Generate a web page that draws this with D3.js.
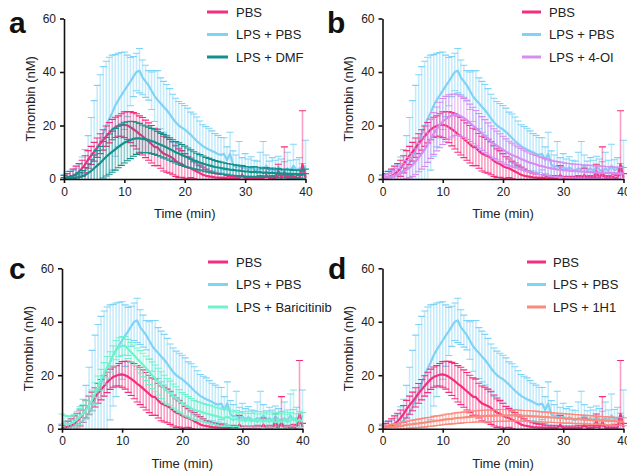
<!DOCTYPE html>
<html lang="en">
<head>
<meta charset="utf-8" />
<title>Thrombin generation</title>
<style>
	body { margin: 0; padding: 0; background: #fff; }
	svg { display: block; font-family: 'Liberation Sans', Arial, sans-serif; }
</style>
<script src="https://d3js.org/d3.v7.min.js"></script>
</head>
<body>
<div id="chart"></div>
<script>
// readings every 30 s, 0-40 min
const times = d3.range(0, 40.25, 0.5);

// PBS
const pbsMean = [
	0.3, 0.5, 0.8, 1.2, 1.8, 2.8, 4, 5.5, 7.3, 8.8,
	10.2, 11.7, 13.2, 14.6, 16, 17.3, 18.5, 19.3, 19.8, 20.2,
	20.3, 20, 19.4, 18.6, 17.8, 16.8, 16, 15, 14, 13,
	12, 11.8, 10.5, 9.5, 9, 8.5, 7.8, 6.8, 6, 5.6,
	4.8, 4.3, 4, 3.4, 2.8, 2.2, 1.6, 1.2, 1, 0.8,
	0.6, 0.5, 0.4, 0.5, 0.3, 0.2, 0.2, 0.3, 0.2, 1.5,
	0.2, 0.1, 0.2, 0.1, 0.2, 0.3, 0.2, 1.5, 0.2, 0.3,
	0.2, 3, 0.3, 2.5, 0.2, 0.3, 0.2, 0.4, 0.3, 5.5,
	0.5];
const pbsSd = [
	1, 1.5, 2, 2.5, 3, 3, 3, 3.2, 3.3, 3.4,
	3.5, 3.6, 3.7, 3.8, 3.8, 3.8, 3.8, 3.8, 3.8, 4.2,
	4.8, 5.2, 5.8, 6.2, 6.6, 6.8, 7, 7, 7, 7,
	7, 6.8, 6.5, 6.5, 6.5, 6.3, 6.2, 5.8, 5.5, 5,
	4.7, 4, 3.5, 3.3, 3.2, 3, 2.9, 2.5, 2, 1.8,
	1.6, 1.4, 1.3, 1.2, 1, 0.8, 0.8, 1, 0.8, 3.5,
	0.8, 0.5, 0.8, 0.5, 0.8, 1, 0.8, 2.5, 0.8, 1,
	0.8, 2.5, 1, 9.5, 0.8, 1, 0.8, 1.2, 1, 20,
	1.5];

// LPS + PBS
const lpsMean = [
	0.2, 0.3, 0.5, 0.7, 1, 1.5, 2.2, 3, 4.2, 6,
	8.3, 11, 14, 17, 20, 22.5, 24.8, 27.5, 29.5, 31.3,
	33, 34.8, 36.4, 38.3, 40, 40.5, 38, 36.5, 35, 33,
	31, 29.5, 28.3, 27, 25.8, 24.3, 22.7, 21.2, 20, 19.2,
	18.5, 17.5, 16.5, 15.3, 14.2, 13.2, 12.3, 11.6, 11, 10.5,
	10, 9.3, 9, 9.4, 7, 9.5, 5.5, 4.5, 5, 4,
	4.5, 3.5, 4.3, 3.5, 3.2, 4, 3.5, 5, 3.2, 4,
	3, 4.5, 3.5, 3, 4, 3, 5, 3.2, 4, 2.8,
	5];
const lpsSd = [
	1.5, 2.5, 2.5, 2.5, 3, 4, 6, 8, 12, 17,
	21, 24, 25, 25, 24, 23, 21.5, 19, 17.5, 16,
	14.5, 11.5, 9, 7.5, 7, 8.3, 6.5, 6, 5.5, 7,
	9.5, 11, 9.5, 9.5, 9.5, 9.5, 9, 9, 9, 9,
	9, 9, 8.5, 9, 9, 8.5, 8, 8, 8, 7.5,
	7, 7, 6.5, 6, 5, 8, 5, 4.5, 9, 4,
	5, 4, 4, 3.5, 3.5, 6, 10.5, 4, 3.5, 4,
	4, 4, 4, 3.5, 6, 4, 8, 4, 4, 3,
	9.5];

// LPS + DMF
const dmfMean = [
	0, 0.1, 0.2, 0.3, 0.5, 0.7, 1, 1.5, 2.2, 3,
	4, 5, 6, 7.2, 8.3, 9.3, 10.2, 11.1, 12, 12.8,
	13.6, 14.1, 14.6, 15, 15.2, 15.2, 15, 14.8, 14.6, 14.2,
	13.8, 13.3, 12.8, 12.3, 11.8, 11.2, 10.6, 10, 9.5, 9,
	8.5, 8, 7.5, 7, 6.6, 6.2, 5.8, 5.4, 5.1, 4.8,
	4.5, 4.3, 4.1, 3.9, 3.7, 3.5, 3.4, 3.2, 3.1, 3,
	2.8, 2.8, 2.6, 2.7, 2.5, 2.6, 2.3, 2.5, 2.2, 2.4,
	2.1, 2.2, 2, 2.1, 1.9, 2, 1.8, 1.9, 1.7, 1.8,
	1.7];
const dmfSd = [
	0.5, 0.6, 0.8, 1, 1.3, 1.7, 2.2, 2.8, 3.5, 4.2,
	5, 5.6, 6.2, 6.8, 7.2, 7.5, 7.7, 7.8, 7.8, 7.7,
	7.6, 7.3, 7, 6.5, 6, 5.6, 5.2, 5, 4.8, 4.7,
	4.6, 4.5, 4.5, 4.4, 4.3, 4.2, 4.1, 4, 4, 3.9,
	3.8, 3.6, 3.4, 3.2, 3, 2.9, 2.8, 2.7, 2.6, 2.5,
	2.4, 2.3, 2.2, 2.2, 2.1, 2.1, 2, 2, 2, 1.9,
	1.9, 1.8, 1.8, 2, 1.7, 1.8, 1.7, 1.8, 1.6, 1.7,
	1.6, 1.7, 1.5, 1.6, 1.5, 1.6, 1.4, 1.5, 1.4, 1.5,
	2];

// LPS + 4-OI
const oiMean = [
	0.5, 0.6, 0.8, 1, 1.3, 1.7, 2.2, 2.8, 3.5, 4.3,
	5.2, 6.5, 8, 9.5, 11, 13, 15, 17, 18.7, 20.2,
	21.5, 22.4, 23.2, 23.7, 24, 23.9, 23.5, 22.8, 22, 21,
	20, 19, 18, 17, 16, 15, 14, 13.2, 12.5, 11.7,
	11, 10.2, 9.5, 9, 8.5, 8, 7.5, 7, 6.5, 6.1,
	5.8, 5.4, 5, 4.8, 4.5, 4.2, 4, 3.8, 3.6, 3.5,
	3.3, 3.2, 3.1, 3, 2.9, 2.9, 2.8, 2.7, 2.7, 2.6,
	2.5, 2.5, 2.4, 2.4, 2.3, 2.3, 2.2, 2.2, 2.1, 2.1,
	2];
const oiSd = [
	0.8, 1, 1.2, 1.5, 1.8, 2.2, 2.6, 3, 3.4, 3.8,
	4.2, 4.8, 5.3, 5.8, 6.3, 6.8, 7.3, 7.8, 8.2, 8.5,
	8.6, 8.5, 8.3, 8, 7.8, 7.6, 7.5, 7.3, 7.2, 7,
	6.8, 6.6, 6.5, 6.3, 6.2, 6, 5.8, 5.6, 5.4, 5.2,
	5, 4.8, 4.6, 4.4, 4.2, 4, 3.9, 3.8, 3.7, 3.6,
	3.5, 3.4, 3.3, 3.2, 3.1, 3, 3, 2.9, 2.9, 2.8,
	2.8, 2.7, 2.7, 2.6, 2.6, 2.6, 2.5, 2.5, 2.5, 2.5,
	2.5, 2.4, 2.4, 2.4, 2.4, 2.3, 2.3, 2.3, 2.3, 2.3,
	2.3];

// LPS + Baricitinib
const bariMean = [
	2, 1.8, 1.6, 2, 2.6, 3.5, 4.5, 5.7, 7, 8.7,
	10.7, 13.2, 15.7, 18.2, 20.7, 23, 25, 27.3, 29.4, 30.5,
	31, 31, 29.8, 28.6, 27.5, 26.2, 25, 23.8, 22.6, 21.3,
	20, 18.8, 17.6, 16.3, 15, 14, 13.2, 12.2, 11.3, 10.4,
	9.5, 8.8, 8.2, 7.6, 7, 6.7, 6.4, 6, 5.7, 5.4,
	5.1, 4.8, 4.5, 4.2, 4, 4.5, 3.9, 3.2, 3.8, 3,
	3.4, 2.8, 3.5, 2.7, 3.3, 2.5, 3.4, 2.6, 3.2, 2.5,
	3.3, 2.4, 3, 2.5, 3.2, 2.4, 3, 4, 2.6, 3.5,
	2.5];
const bariSd = [
	3.5, 3.2, 3, 2.8, 2.8, 3, 3, 3.2, 3.4, 3.6,
	3.8, 4, 4, 4, 4, 4, 3.8, 3.7, 3.6, 3.5,
	3.5, 3.5, 3.6, 3.7, 3.8, 4, 4.2, 4.4, 4.6, 4.8,
	5, 5, 5, 5, 5, 4.8, 4.6, 4.5, 4.4, 4.2,
	4, 4, 3.8, 3.7, 3.6, 3.5, 3.5, 3.4, 3.4, 3.4,
	3.4, 3.3, 3.3, 3.2, 3.2, 3.2, 3.1, 3.1, 3, 3,
	3, 3, 3, 3, 3, 3, 3, 3, 3, 3,
	3, 3, 3, 3, 3, 3, 3, 10.5, 3, 3,
	3.5];

// LPS + 1H1
const h1Mean = [
	0.3, 0.4, 0.5, 0.6, 0.7, 0.8, 1, 1.2, 1.4, 1.6,
	1.7, 1.9, 2, 2.2, 2.3, 2.5, 2.6, 2.8, 3, 3.1,
	3.3, 3.5, 3.6, 3.7, 3.9, 4, 4.1, 4.2, 4.3, 4.4,
	4.5, 4.6, 4.6, 4.7, 4.7, 4.8, 4.8, 4.9, 4.9, 5,
	5, 5, 5, 5, 5, 4.9, 4.9, 4.8, 4.8, 4.7,
	4.6, 4.6, 4.5, 4.4, 4.3, 4.3, 4.2, 4.1, 4, 4,
	3.9, 3.8, 3.8, 3.7, 3.6, 3.6, 3.5, 3.4, 3.4, 3.3,
	3.2, 3.2, 3.1, 3, 3, 2.9, 2.9, 2.8, 2.7, 2.7,
	2.6];
const h1Sd = [
	0.8, 0.8, 0.9, 1, 1, 1.1, 1.2, 1.2, 1.3, 1.4,
	1.5, 1.5, 1.6, 1.6, 1.7, 1.7, 1.7, 1.8, 1.8, 1.8,
	1.8, 1.9, 1.9, 1.9, 2, 2, 2, 2, 2, 2.1,
	2.1, 2.1, 2.1, 2.2, 2.2, 2.2, 2.2, 2.2, 2.2, 2.2,
	2.2, 2.2, 2.1, 2.1, 2.1, 2.1, 2, 2, 2, 2,
	2, 2, 1.9, 1.9, 1.9, 1.9, 1.8, 1.8, 1.8, 1.8,
	1.8, 1.7, 1.7, 1.7, 1.7, 1.6, 1.6, 1.6, 1.6, 1.6,
	1.6, 1.5, 1.5, 1.5, 1.5, 1.5, 1.5, 1.5, 1.5, 1.5,
	1.5];

const xTicks = [0, 10, 20, 30, 40];
const yTicks = [0, 20, 40, 60];

const series = {
	pbs:  { label: "PBS", mean: pbsMean, sd: pbsSd, color: "#f52d7e" },
	lps:  { label: "LPS + PBS", mean: lpsMean, sd: lpsSd, color: "#7fd3f7" },
	dmf:  { label: "LPS + DMF", mean: dmfMean, sd: dmfSd, color: "#13908c" },
	oi:   { label: "LPS + 4-OI", mean: oiMean, sd: oiSd, color: "#d68cf2" },
	bari: { label: "LPS + Baricitinib", mean: bariMean, sd: bariSd, color: "#6ef4cb" },
	h1:   { label: "LPS + 1H1", mean: h1Mean, sd: h1Sd, color: "#fa8b7c" }
};

// panel boxes (pixel positions of the axis ends)
const panels = [
	{ letter: "a", lx: 9,   ly: 33,  x: [64, 305.5],  y: [179, 18.5], leg: [207, 228, 236], legY: 12, extra: "dmf" },
	{ letter: "b", lx: 327, ly: 33,  x: [382.5, 623.5], y: [179, 18.5], leg: [522, 541, 549], legY: 12, extra: "oi" },
	{ letter: "c", lx: 9,   ly: 279, x: [62, 302.5],  y: [428.7, 268.3], leg: [208, 228, 236], legY: 262, extra: "bari" },
	{ letter: "d", lx: 328, ly: 279, x: [382.5, 623.5], y: [428.7, 268.3], leg: [527, 546, 553], legY: 262, extra: "h1" }
];

const W = 627, H = 474;
const svg = d3.select("#chart").append("svg").attr("width", W).attr("height", H);

panels.forEach((p, pi) => {
	const x = d3.scaleLinear().domain([0, 40]).range(p.x);
	const y = d3.scaleLinear().domain([0, 60]).range(p.y);
	const g = svg.append("g");

	const clipId = "clip" + pi;
	svg.append("clipPath").attr("id", clipId)
		.append("rect")
		.attr("x", p.x[0] - 10).attr("y", p.y[1] - 10)
		.attr("width", p.x[1] - p.x[0] + 20).attr("height", p.y[0] - p.y[1] + 10);

	const order = ["lps", "pbs", p.extra];
	const plot = g.append("g").attr("clip-path", `url(#${clipId})`);

	order.forEach(k => {
		const s = series[k];
		const pts = times.map((t, i) => ({ t, m: s.mean[i], sd: s.sd[i] }));
		const eb = plot.append("g");
		eb.selectAll("line.v").data(pts).enter().append("line")
			.attr("x1", d => x(d.t)).attr("x2", d => x(d.t))
			.attr("y1", d => y(Math.max(0, d.m - d.sd))).attr("y2", d => y(d.m + d.sd))
			.attr("stroke", s.color).attr("stroke-width", 1.6).attr("stroke-opacity", 0.45);
		["lo", "hi"].forEach(side => {
			eb.selectAll("line." + side).data(pts).enter().append("line")
				.attr("x1", d => x(d.t) - 3.5).attr("x2", d => x(d.t) + 3.5)
				.attr("y1", d => y(side === "hi" ? d.m + d.sd : d.m - d.sd))
				.attr("y2", d => y(side === "hi" ? d.m + d.sd : d.m - d.sd))
				.attr("stroke", s.color).attr("stroke-width", 1.1);
		});
		plot.append("path").datum(pts)
			.attr("fill", "none").attr("stroke", s.color).attr("stroke-width", 2.2)
			.attr("stroke-linejoin", "round")
			.attr("d", d3.line().x(d => x(d.t)).y(d => y(d.m)));
	});

	// axes
	const xa = g.append("g").attr("transform", `translate(0,${p.y[0]})`)
		.call(d3.axisBottom(x).tickValues(xTicks).tickSize(4).tickPadding(4).tickSizeOuter(0));
	const ya = g.append("g").attr("transform", `translate(${p.x[0]},0)`)
		.call(d3.axisLeft(y).tickValues(yTicks).tickSize(4).tickPadding(4).tickSizeOuter(0));
	[xa, ya].forEach(a => {
		a.select(".domain").attr("stroke", "#111").attr("stroke-width", 1.6);
		a.selectAll(".tick line").attr("stroke", "#111").attr("stroke-width", 1.6);
		a.selectAll(".tick text").attr("fill", "#222").style("font-size", "12px")
			.style("font-family", "'Liberation Sans', Arial, sans-serif");
	});

	g.append("text")
		.attr("x", (p.x[0] + p.x[1]) / 2).attr("y", p.y[0] + 39)
		.attr("text-anchor", "middle").attr("fill", "#222").style("font-size", "13px")
		.text("Time (min)");
	g.append("text")
		.attr("transform", `translate(${p.x[0] - 29.5},${(p.y[0] + p.y[1]) / 2}) rotate(-90)`)
		.attr("text-anchor", "middle").attr("fill", "#222").style("font-size", "13px")
		.text("Thrombin (nM)");

	g.append("text").attr("x", p.lx).attr("y", p.ly)
		.style("font-size", "30px").style("font-weight", "bold").attr("fill", "#111")
		.text(p.letter);

	// legend
	["pbs", "lps", p.extra].forEach((k, i) => {
		const ry = p.legY + i * 22.5;
		g.append("line").attr("x1", p.leg[0]).attr("x2", p.leg[1])
			.attr("y1", ry).attr("y2", ry)
			.attr("stroke", series[k].color).attr("stroke-width", 3);
		g.append("text").attr("x", p.leg[2]).attr("y", ry + 4.6)
			.attr("fill", "#222").style("font-size", "13px")
			.text(series[k].label);
	});
});
</script>
</body>
</html>
